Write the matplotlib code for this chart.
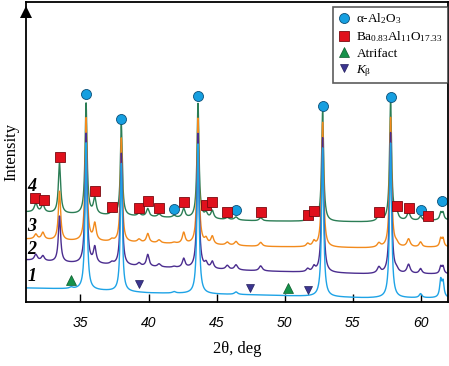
import numpy as np
import matplotlib
matplotlib.use("Agg")
import matplotlib.pyplot as plt
from matplotlib.lines import Line2D

plt.rcParams['mathtext.fontset'] = 'custom'
plt.rcParams['mathtext.rm'] = 'Liberation Serif'
plt.rcParams['mathtext.it'] = 'Liberation Serif:italic'
plt.rcParams['mathtext.bf'] = 'Liberation Serif:bold'

# ---------------- data ----------------
peak_pos = [31.72, 32.24, 33.46, 34.31, 35.41, 36.05, 37.30, 38.00, 39.30, 39.94,
            40.77, 41.87, 42.58, 43.63, 44.22, 44.68, 45.78, 46.42, 48.23, 51.68,
            52.14, 52.78, 56.91, 57.77, 58.21, 59.09, 59.97, 61.45, 61.62]
peak_width = [0.13, 0.13, 0.10, 0.14, 0.09, 0.12, 0.14, 0.085, 0.14, 0.12,
              0.14, 0.14, 0.12, 0.09, 0.12, 0.12, 0.14, 0.14, 0.14, 0.12,
              0.12, 0.09, 0.14, 0.09, 0.14, 0.14, 0.12, 0.09, 0.09]

amp_1 = [0, 0, 0, 1.5, 147, 0, 0, 128, 0, 0,
         0, 1.5, 0, 150, 0, 0, 0, 2.5, 0, 0,
         0, 149, 0, 155, 0, 0, 4, 17, 15]
amp_2 = [6, 5, 46, 0, 130, 16, 2, 112, 3, 12,
         3, 1, 9, 135, 5, 7, 4, 5, 5, 3,
         5, 135, 6, 141, 3, 9, 5, 7, 7]
amp_3 = [5, 7, 49, 0, 123, 17, 2, 104, 3, 9,
         3, 1, 11, 126, 5, 8, 3, 4, 4, 3,
         5, 125, 4, 130, 3, 8, 5, 8, 8]
amp_4 = [9, 8, 50, 0, 111, 16, 3, 91, 3, 8,
         3, 2, 9, 115, 5, 8, 2, 3, 3, 3,
         5, 110, 6, 120, 7, 8, 4, 7, 7]

base_x = [31, 34, 40, 48, 56, 62]
base_1 = [14, 13, 9, 7, 4, 4]
base_2 = [42, 39, 35, 31, 28, 28]
base_3 = [63, 61, 59, 55.5, 54, 55]
base_4 = [90, 88, 85, 81, 80, 82]

series_labels = ['1', '2', '3', '4']
series_label_y = [25, 52, 75, 115]

# phase markers
alumina_x = [35.41, 38.00, 43.63, 52.78, 57.77, 41.87, 46.42, 59.97, 61.53]
alumina_y = [208, 183, 206, 196, 205, 93, 92, 92, 101]
ba_x = [31.69, 32.33, 33.46, 36.05, 37.30, 39.30, 39.94, 40.77, 42.58, 44.22,
        44.68, 45.78, 48.23, 51.68, 52.14, 56.91, 58.21, 59.09, 60.53]
ba_y = [103.7, 102, 144.7, 111.3, 95.3, 94.3, 101.3, 93.7, 100, 97,
        100, 90.3, 90.3, 87, 91.3, 90.3, 96, 93.7, 86]
artifact_x = [34.31, 50.26]
artifact_y = [22, 13.7]
kbeta_x = [39.30, 47.45, 51.72]
kbeta_y = [18, 13.7, 12]

xticks = [35, 40, 45, 50, 55, 60]

# ---------------- build curves ----------------
x = np.linspace(31.0, 62.0, 4000)

def pattern(amps, base):
    y = np.interp(x, base_x, base)
    for p, w, a in zip(peak_pos, peak_width, amps):
        y = y + a / (1.0 + ((x - p) / w) ** 2)
    return y

colors = {'1': '#1ea3e6', '2': '#4b2d8f', '3': '#f28a1c', '4': '#2b7d55'}

fig = plt.figure(figsize=(4.49, 3.66), dpi=100)
ax = fig.add_axes([0.0579, 0.1749, 0.9388, 0.8196])

# draw order: 4, 3, 2, 1 (blue on top)
for lab, amps, base in [('4', amp_4, base_4), ('3', amp_3, base_3),
                        ('2', amp_2, base_2), ('1', amp_1, base_1)]:
    ax.plot(x, pattern(amps, base), color=colors[lab], lw=1.0)

ms = 7.2
ax.plot(alumina_x, alumina_y, 'o', ms=ms, mfc='#169fe0', mec='#0b4f78', mew=0.6, ls='none')
ax.plot(ba_x, ba_y, 's', ms=ms * 0.95, mfc='#e0101c', mec='#7a0a10', mew=0.6, ls='none')
ax.plot(artifact_x, artifact_y, '^', ms=ms * 0.95, mfc='#15924a', mec='#0c5a2c', mew=0.5, ls='none')
ax.plot(kbeta_x, kbeta_y, 'v', ms=ms * 0.75, mfc='#3b3590', mec='#25205e', mew=0.5, ls='none')

for lab, yy in zip(series_labels, series_label_y):
    ax.text(31.45, yy, lab, fontsize=13, family='Liberation Serif', style='italic',
            fontweight='bold', ha='center', va='center')

ax.set_xlim(31.0, 61.95)
ax.set_ylim(0, 300)
ax.set_xticks(xticks)
ax.set_xticklabels([str(t) for t in xticks], fontsize=10, family='Liberation Sans',
                   style='italic')
ax.tick_params(axis='x', direction='in', length=6, width=1.0, pad=10, top=False)
ax.set_yticks([])
for s in ax.spines.values():
    s.set_linewidth(1.3)

# arrow on top of y axis
ax.plot([31.0], [290], marker='^', ms=8, color='black', clip_on=False,
        markeredgewidth=0)

ax.set_xlabel('2θ, deg', fontsize=12, family='Liberation Serif', labelpad=8)
ax.set_ylabel('Intensity', fontsize=12, family='Liberation Serif', labelpad=5)

handles = [
    Line2D([], [], marker='o', ls='none', ms=ms, mfc='#169fe0', mec='#0b4f78', mew=0.6),
    Line2D([], [], marker='s', ls='none', ms=ms * 0.95, mfc='#e0101c', mec='#7a0a10', mew=0.6),
    Line2D([], [], marker='^', ls='none', ms=ms * 0.95, mfc='#15924a', mec='#0c5a2c', mew=0.5),
    Line2D([], [], marker='v', ls='none', ms=ms * 0.75, mfc='#3b3590', mec='#25205e', mew=0.5),
]
labels = [r'α-Al$_2$O$_3$', r'Ba$_{0.83}$Al$_{11}$O$_{17.33}$', 'Atrifact',
          r'$\mathit{K}_{\mathrm{β}}$']
leg = ax.legend(handles, labels, loc='upper right', bbox_to_anchor=(1.0, 0.985),
                borderaxespad=0, frameon=True, fancybox=False, handlelength=0.9,
                handletextpad=0.5, labelspacing=0.25, borderpad=0.35,
                prop={'family': 'Liberation Serif', 'size': 9.5})
leg.get_frame().set_edgecolor('#333333')
leg.get_frame().set_linewidth(1.2)

fig.savefig('out.png', dpi=100)
